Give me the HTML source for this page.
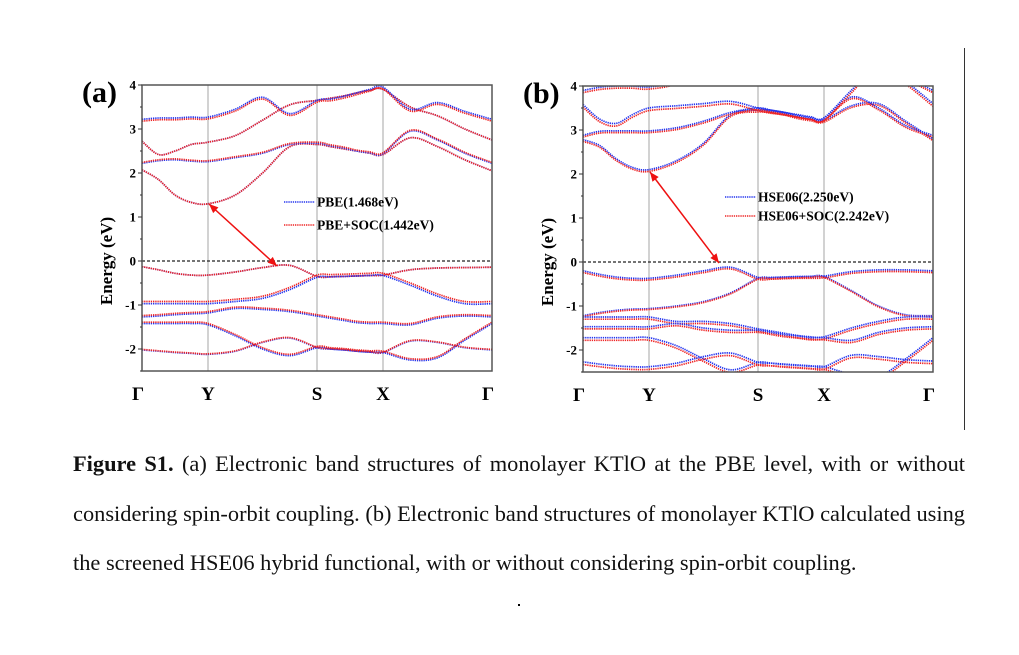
<!DOCTYPE html>
<html><head><meta charset="utf-8">
<style>
body{margin:0;background:#fff;width:1019px;height:655px;overflow:hidden;position:relative;font-family:"Liberation Serif",serif;}
.cap{position:absolute;left:73px;width:892px;font-size:22.4px;color:#111;text-align:justify;text-align-last:justify;white-space:nowrap;}
</style></head>
<body>
<svg id="fig" width="1019" height="440" style="position:absolute;left:0;top:0" xmlns="http://www.w3.org/2000/svg"></svg>
<div style="position:absolute;left:964px;top:48px;width:1px;height:382px;background:#333"></div>
<div class="cap" style="top:451px;white-space:normal"><b>Figure S1.</b> (a) Electronic band structures of monolayer KTlO at the PBE level, with or without</div>
<div class="cap" style="top:501px;white-space:normal">considering spin-orbit coupling. (b) Electronic band structures of monolayer KTlO calculated using</div>
<div class="cap" style="top:550px;text-align-last:left">the screened HSE06 hybrid functional, with or without considering spin-orbit coupling.</div>
<div style="position:absolute;left:518px;top:604px;width:2px;height:2px;background:#000"></div>
<script>
// k-path labels
const kLabels = ["Γ","Y","S","X","Γ"];
const yTicks = [4,3,2,1,0,-1,-2];
// Panel (a) PBE bands (18 samples along Γ-Y-S-X-Γ)
const bandsA = [
 [2.07,1.85,1.5,1.33,1.3, 1.5,2.0,2.6,2.65, 2.6,2.55,2.5,2.45,2.42, 2.8,2.6,2.3,2.05],
 [2.22,2.28,2.3,2.27,2.26, 2.35,2.45,2.65,2.68, 2.62,2.57,2.5,2.46,2.44, 2.95,2.75,2.45,2.22],
 [2.72,2.42,2.5,2.65,2.7, 2.85,3.2,3.55,3.65, 3.7,3.75,3.82,3.88,3.9, 3.5,3.3,3.0,2.75],
 [3.22,3.25,3.25,3.27,3.27, 3.45,3.72,3.35,3.65, 3.68,3.74,3.82,3.9,3.95, 3.45,3.6,3.4,3.22],
 [-0.13,-0.2,-0.28,-0.32,-0.32, -0.25,-0.15,-0.1,-0.35, -0.36,-0.35,-0.34,-0.33,-0.32, -0.2,-0.16,-0.15,-0.14],
 [-0.97,-0.97,-0.97,-0.97,-0.97, -0.92,-0.85,-0.65,-0.37, -0.36,-0.35,-0.34,-0.33,-0.33, -0.55,-0.8,-0.97,-0.97],
 [-1.27,-1.25,-1.22,-1.2,-1.18, -1.08,-1.1,-1.15,-1.25, -1.3,-1.35,-1.4,-1.42,-1.42, -1.45,-1.3,-1.25,-1.27],
 [-1.42,-1.42,-1.42,-1.42,-1.45, -1.7,-2.0,-2.15,-1.97, -2.0,-2.02,-2.05,-2.07,-2.08, -2.25,-2.2,-1.8,-1.42],
 [-2.02,-2.05,-2.08,-2.1,-2.12, -2.05,-1.85,-1.75,-1.97, -2.0,-2.02,-2.05,-2.07,-2.08, -1.82,-1.85,-1.97,-2.02]
];
const socShiftA = [0,0.02,0,-0.04,0,0.05,0.03,0.03,0.01];
// Panel (b) HSE06 bands
const bandsB = [
 [2.78,2.65,2.35,2.15,2.1, 2.3,2.7,3.35,3.45, 3.42,3.38,3.3,3.25,3.22, 3.55,3.6,3.2,2.8],
 [2.88,2.97,2.98,2.98,2.98, 3.05,3.2,3.4,3.5, 3.45,3.4,3.33,3.28,3.25, 3.75,3.5,3.1,2.88],
 [3.58,3.25,3.15,3.35,3.5, 3.55,3.6,3.65,3.5, 3.45,3.4,3.35,3.3,3.28, 3.9,4.5,4.1,3.6],
 [3.9,3.97,4.0,4.0,3.98, 4.1,4.5,4.8,4.9, 4.9,4.8,4.7,4.6,4.5, 4.6,4.5,4.2,3.9],
 [-0.2,-0.28,-0.34,-0.37,-0.37, -0.3,-0.2,-0.12,-0.35, -0.35,-0.34,-0.33,-0.33,-0.32, -0.22,-0.18,-0.18,-0.2],
 [-1.22,-1.15,-1.1,-1.07,-1.06, -1.0,-0.9,-0.7,-0.37, -0.36,-0.35,-0.34,-0.33,-0.33, -0.65,-1.0,-1.2,-1.22],
 [-1.25,-1.25,-1.25,-1.25,-1.25, -1.35,-1.35,-1.4,-1.52, -1.57,-1.62,-1.67,-1.7,-1.7, -1.5,-1.35,-1.25,-1.25],
 [-1.47,-1.47,-1.47,-1.47,-1.47, -1.4,-1.5,-1.55,-1.55, -1.6,-1.65,-1.68,-1.72,-1.72, -1.78,-1.6,-1.5,-1.47],
 [-1.72,-1.72,-1.72,-1.72,-1.72, -1.9,-2.2,-2.45,-2.28, -2.3,-2.33,-2.35,-2.37,-2.38, -2.55,-2.6,-2.2,-1.72],
 [-2.27,-2.32,-2.36,-2.38,-2.38, -2.3,-2.15,-2.07,-2.28, -2.3,-2.32,-2.34,-2.36,-2.38, -2.12,-2.15,-2.22,-2.25]
];
const socShiftB = [-0.04,-0.04,-0.06,-0.05,-0.04,-0.02,-0.05,-0.05,-0.06,-0.06];
const kSamples = [0,0.25,0.5,0.75,1, 1.25,1.5,1.75,2, 2.2,2.4,2.6,2.8,3, 3.25,3.5,3.75,4];
const legendA = ["PBE(1.468eV)","PBE+SOC(1.442eV)"];
const legendB = ["HSE06(2.250eV)","HSE06+SOC(2.242eV)"];

const NS="http://www.w3.org/2000/svg";
const svg=document.getElementById('fig');
function mk(tag,attrs,parent){const e=document.createElementNS(NS,tag);for(const k in attrs)e.setAttribute(k,attrs[k]);(parent||svg).appendChild(e);return e;}

function panel(id,x0,x1,yTop,nodes,bands,shift,legend,legPos,arrow,label){
  const yZero=yTop+4*44;
  const yBot=yZero+2.5*44;
  const Y=v=>yZero-v*44;
  const X=k=>{const i=Math.min(3,Math.floor(k));const f=k-i;return nodes[i]+(nodes[i+1]-nodes[i])*f;};
  const g=mk('g',{});
  
  
  const cp=mk('clipPath',{id:'clip-'+id},g);
  mk('rect',{x:x0,y:yTop,width:x1-x0,height:yBot-yTop},cp);
  [1,2,3].forEach(i=>{const l=mk('line',{x1:nodes[i],x2:nodes[i],y1:yTop,y2:yBot,stroke:'#c4c4c4','stroke-width':1.5},g);
    
    });
  const fl=mk('line',{x1:x0,x2:x1,y1:yZero,y2:yZero,stroke:'#222','stroke-width':1.3,'stroke-dasharray':'3 2'},g);
  
  
  const bg=mk('g',{'clip-path':'url(#clip-'+id+')'},g);
  function path(vals){
    const p=kSamples.map((k,i)=>[X(k),Y(vals[i])]);
    let d='M'+p[0][0].toFixed(1)+' '+p[0][1].toFixed(1);
    for(let i=0;i<p.length-1;i++){
      const p0=p[Math.max(0,i-1)],p1=p[i],p2=p[i+1],p3=p[Math.min(p.length-1,i+2)];
      const c1=[p1[0]+(p2[0]-p0[0])/6,p1[1]+(p2[1]-p0[1])/6];
      const c2=[p2[0]-(p3[0]-p1[0])/6,p2[1]-(p3[1]-p1[1])/6];
      d+=' C'+c1.map(v=>v.toFixed(1)).join(' ')+' '+c2.map(v=>v.toFixed(1)).join(' ')+' '+p2.map(v=>v.toFixed(1)).join(' ');
    }
    return d;
  }
  bands.forEach((b,i)=>{
    const pb=mk('path',{d:path(b),fill:'none',stroke:'#2233ee','stroke-width':1.7,'stroke-dasharray':'1.3 0.9'},bg);
    
    
    const pr=mk('path',{d:path(b.map(v=>v+shift[i])),fill:'none',stroke:'#ee2222','stroke-width':1.7,'stroke-dasharray':'1.3 0.9'},bg);
    
    
  });
  const fr=mk('rect',{x:x0,y:yTop,width:x1-x0,height:yBot-yTop,fill:'none',stroke:'#555','stroke-width':1.5},g);
  
  
  yTicks.forEach(t=>{
    mk('line',{x1:x0-4,x2:x0,y1:Y(t),y2:Y(t),stroke:'#333','stroke-width':1},g);
    mk('line',{x1:x0-2,x2:x0,y1:Y(t-0.5),y2:Y(t-0.5),stroke:'#333','stroke-width':1},g);
    const tl=mk('text',{x:x0-6,y:Y(t)+4.5,'text-anchor':'end','font-size':13,'font-weight':'bold','font-family':'Liberation Serif'},g);
    tl.textContent=t;
    
    
  });
  const yt=mk('text',{x:0,y:0,transform:`translate(${x0-30},${yZero}) rotate(-90)`,'text-anchor':'middle','font-size':17,'font-weight':'bold','font-family':'Liberation Serif'},g);
  yt.textContent='Energy (eV)';
  
  
  kLabels.forEach((s,i)=>{
    const t=mk('text',{x:nodes[i]+(i==0?-4:i==4?-4:0),y:yBot+29,'text-anchor':'middle','font-size':19,'font-weight':'bold','font-family':'Liberation Serif'},g);
    t.textContent=s;
    
    
  });
  const lb=mk('text',{x:x0-60,y:yTop+17,'font-size':30,'font-weight':'bold','font-family':'Liberation Serif'},g);
  lb.textContent=label;
  
  
  [['#2233ee',0],['#ee2222',1]].forEach(([c,i])=>{
    const ly=legPos[1]+i*legPos[2];
    mk('line',{x1:legPos[0],x2:legPos[0]+31,y1:ly,y2:ly,stroke:c,'stroke-width':1.6,'stroke-dasharray':'1.3 0.9'},g);
    const t=mk('text',{x:legPos[0]+33,y:ly+4.5,'font-size':13.5,'font-weight':'bold','font-family':'Liberation Serif'},g);
    t.textContent=legend[i];
    
    
  });
  const [ax1,ay1,ax2,ay2]=arrow;
  const ar=mk('line',{x1:ax1,y1:ay1,x2:ax2,y2:ay2,stroke:'#ee1111','stroke-width':1.5},g);
  
  
  function head(xa,ya,xb,yb){const a=Math.atan2(yb-ya,xb-xa),L=10,w=0.4;
    mk('polygon',{points:`${xb},${yb} ${xb-L*Math.cos(a-w)},${yb-L*Math.sin(a-w)} ${xb-L*Math.cos(a+w)},${yb-L*Math.sin(a+w)}`,fill:'#ee1111'},g);}
  head(ax1,ay1,ax2,ay2);head(ax2,ay2,ax1,ay1);
}
panel('panel-a',142,492,85,[142,208,317,383,492],bandsA,socShiftA,legendA,[284,202,23],[209,204,277,266],'(a)');
panel('panel-b',583,933,86,[583,649,758,824,933],bandsB,socShiftB,legendB,[725,197,19],[650,172,719,263],'(b)');
</script>
</body></html>
